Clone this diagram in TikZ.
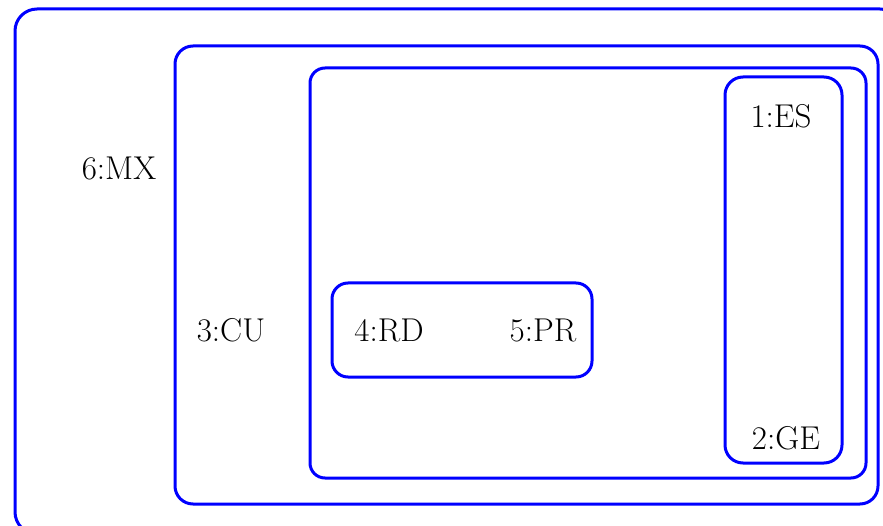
\documentclass[tikz,border=0pt]{standalone}
\usepackage{tikz}
\begin{document}
\begin{tikzpicture}[x=1pt,y=-1pt,
  box/.style={draw=blue, line width=3pt, rounded corners=#1, inner sep=0pt, outer sep=0pt},
  box/.default=16pt,
  lab/.style={inner sep=0pt, font=\fontsize{33}{40}\selectfont}]
\useasboundingbox (0,0) rectangle (883,526);
\clip (0,0) rectangle (883,526);
\node[box=22pt, minimum width=887pt, minimum height=525pt] (mx) at (458.5,271.5) {};
\node[box=18pt, minimum width=703pt, minimum height=458pt] (cu) at (526.5,275) {};
\node[box=15pt, minimum width=556pt, minimum height=410pt] (in) at (588,273) {};
\node[box=18pt, minimum width=117pt, minimum height=386pt] (eg) at (783.5,270) {};
\node[box=16pt, minimum width=260pt, minimum height=94pt] (rp) at (462,330) {};
\node[lab] (l6) at (119,168) {6:MX};
\node[lab] (l3) at (231,330) {3:CU};
\node[lab] (l4) at (389,330) {4:RD};
\node[lab] (l5) at (543,330) {5:PR};
\node[lab] (l1) at (781,116) {1:ES};
\node[lab] (l2) at (786,438) {2:GE};
\end{tikzpicture}
\end{document}
